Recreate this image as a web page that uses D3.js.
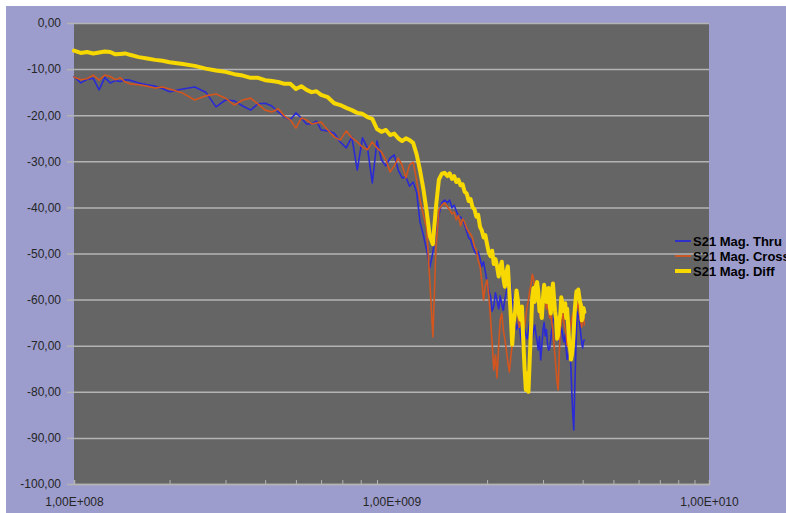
<!DOCTYPE html>
<html>
<head>
<meta charset="utf-8">
<script src="https://cdn.jsdelivr.net/npm/d3@7"></script>
<style>
  body { margin: 0; background: #ffffff; }
  svg { display: block; }
  text { font-family: "Liberation Sans", Arial, sans-serif; }
</style>
</head>
<body>
<div id="chart"></div>
<script>
// sweep frequencies in MHz
const freqMHz = [
  100, 105, 110, 115, 120, 125, 130, 135, 140, 145,
  150, 160, 170, 180, 190,
  200, 220, 240, 260, 280, 300, 320, 340, 360, 380,
  400, 420, 440, 460, 480, 500, 520, 540, 560, 580,
  600, 630, 660, 690, 720, 750, 780, 810, 840, 870,
  900, 930, 960, 990, 1020, 1050, 1080, 1110, 1140, 1170,
  1200, 1230, 1260, 1290, 1320, 1350, 1380, 1410, 1440, 1470,
  1500, 1525, 1550, 1575, 1600, 1625, 1650, 1675, 1700, 1725,
  1750, 1775, 1800, 1825, 1850, 1875, 1900, 1925, 1950, 1975,
  2000, 2025, 2050, 2075, 2100, 2125, 2150, 2175, 2200, 2225,
  2250, 2275, 2300, 2325, 2350, 2375, 2400, 2425, 2450, 2475,
  2500, 2525, 2550, 2575, 2600, 2625, 2650, 2675, 2700, 2725,
  2750, 2775, 2800, 2825, 2850, 2875, 2900, 2925, 2950, 2975,
  3000, 3025, 3050, 3075, 3100, 3125, 3150, 3175, 3200, 3225,
  3250, 3275, 3300, 3325, 3350, 3375, 3400, 3425, 3450, 3475,
  3500, 3525, 3550, 3575, 3600, 3625, 3650, 3675, 3700, 3725,
  3750, 3775, 3800, 3825, 3850, 3875, 3900, 3925, 3950, 3975,
  4000, 4025, 4050
];

const magThru = [
  -11.6, -13.0, -12.2, -12.0, -14.5, -11.8, -13.0, -12.5, -12.7, -12.3,
  -12.4, -13.0, -13.4, -13.7, -14.2,
  -14.9, -14.3, -13.9, -15.0, -18.2, -16.7, -16.9, -18.0, -18.9, -17.5,
  -17.4, -18.0, -19.3, -20.4, -21.0, -19.5, -20.6, -21.9, -21.9, -21.3,
  -23.2, -23.4, -23.9, -25.8, -27.1, -24.7, -31.9, -24.9, -27.1, -34.7,
  -25.6, -29.7, -31.0, -29.3, -28.6, -31.9, -33.6, -33.4, -35.4, -34.5,
  -36.7, -43.2, -46.0, -49.2, -53.1, -49.7, -45.3, -41.6, -39.0, -38.4,
  -39.0, -38.4, -40.1, -39.5, -40.8, -41.8, -42.1, -42.6, -43.8, -45.2,
  -46.6, -47.0, -48.4, -49.5, -50.1, -49.6, -51.0, -52.8, -51.8, -54.0,
  -56.2, -58.0, -59.2, -62.5, -61.4, -58.5, -60.1, -62.0, -59.2, -61.0,
  -62.3, -60.0, -58.4, -56.5, -55.3, -57.0, -60.1, -63.0, -64.0, -66.5,
  -65.7, -64.5, -67.9, -70.0, -69.6, -66.5, -67.7, -68.5, -66.6, -64.8,
  -65.7, -68.5, -67.0, -65.5, -67.5, -69.0, -70.9, -68.0, -73.1, -70.0,
  -66.6, -65.0, -67.9, -66.5, -69.6, -71.0, -70.5, -68.5, -66.6, -64.5,
  -64.0, -62.8, -64.4, -66.0, -67.2, -69.0, -68.3, -66.0, -67.0, -68.5,
  -69.2, -67.5, -70.9, -73.0, -72.2, -70.0, -71.4, -75.0, -80.7, -85.0,
  -88.3, -80.0, -73.1, -66.0, -62.7, -63.5, -64.0, -66.0, -67.7, -69.5,
  -70.5, -69.0, -68.8
];

const magCross = [
  -11.7, -12.3, -12.1, -11.3, -12.4, -11.3, -11.6, -12.3, -11.9, -12.8,
  -13.2, -13.4, -13.7, -14.1, -13.9,
  -14.3, -15.2, -16.7, -15.8, -15.4, -16.3, -17.8, -16.7, -16.3, -17.6,
  -18.9, -19.3, -18.6, -20.2, -21.0, -22.8, -20.6, -21.0, -21.9, -21.7,
  -21.5, -23.2, -24.7, -25.4, -23.4, -24.9, -25.8, -26.9, -27.5, -25.8,
  -27.1, -28.0, -29.7, -32.3, -31.0, -29.3, -30.8, -33.6, -30.8, -30.2,
  -34.1, -38.4, -41.6, -44.5, -55.7, -68.1, -48.8, -40.6, -39.5, -39.0,
  -39.9, -40.5, -41.4, -41.0, -42.7, -41.8, -44.0, -42.5, -43.2, -44.5,
  -45.3, -45.8, -46.6, -48.5, -49.2, -51.5, -52.7, -56.0, -60.1, -57.0,
  -55.7, -59.0, -64.0, -69.5, -75.3, -72.0, -77.0, -70.0, -64.4, -63.0,
  -66.6, -68.5, -70.9, -73.5, -75.7, -72.5, -69.8, -66.5, -64.4, -62.0,
  -63.6, -66.0, -64.9, -62.5, -64.0, -66.0, -63.6, -61.5, -60.1, -58.0,
  -56.8, -54.5, -55.3, -58.0, -56.2, -58.5, -61.2, -63.0, -64.0, -62.5,
  -61.8, -60.0, -59.7, -62.0, -61.0, -62.5, -64.0, -62.5, -64.9, -67.0,
  -69.8, -72.5, -75.3, -78.0, -79.6, -72.0, -66.6, -65.0, -64.0, -63.0,
  -65.5, -66.5, -67.7, -70.0, -68.8, -67.5, -66.6, -65.0, -64.0, -63.0,
  -64.9, -63.5, -62.7, -61.0, -61.8, -60.5, -62.7, -64.0, -64.9, -66.0,
  -64.0, -63.0, -65.5
];

const magDiff = [
  -6.0, -6.5, -6.3, -6.6, -6.4, -6.2, -6.3, -6.8, -6.7, -6.6,
  -6.9, -7.4, -7.7, -8.0, -8.2,
  -8.5, -8.9, -9.3, -9.9, -10.3, -10.6, -11.1, -11.4, -11.9, -11.9,
  -12.4, -12.6, -12.8, -13.2, -13.2, -14.3, -13.7, -14.5, -15.0, -14.8,
  -15.6, -16.1, -17.4, -17.8, -18.4, -18.9, -19.5, -19.7, -20.4, -20.8,
  -23.0, -23.6, -23.2, -24.3, -24.0, -25.0, -25.6, -25.0, -25.4, -26.0,
  -28.5, -32.0, -36.0, -40.8, -46.2, -48.0, -40.0, -34.0, -32.7, -32.5,
  -33.2, -32.6, -33.8, -33.2, -34.5, -34.0, -35.2, -35.0, -36.6, -37.0,
  -38.6, -38.2, -40.0, -40.4, -42.0, -41.6, -44.2, -45.0, -46.5, -46.0,
  -48.0, -49.8, -50.6, -49.4, -52.3, -51.2, -52.8, -55.0, -53.1, -51.8,
  -55.3, -57.2, -54.0, -52.8, -57.9, -63.5, -69.8, -65.0, -62.7, -58.0,
  -60.1, -63.5, -64.4, -61.5, -68.8, -75.0, -79.6, -76.0, -80.0, -73.0,
  -66.6, -59.5, -57.5, -60.5, -57.0, -56.2, -58.4, -62.5, -61.2, -64.0,
  -59.7, -56.8, -57.9, -60.5, -60.1, -57.5, -61.2, -63.0, -58.4, -56.5,
  -59.7, -62.5, -64.4, -68.5, -67.7, -64.5, -63.3, -59.5, -60.7, -62.5,
  -62.2, -60.8, -64.0, -62.0, -65.5, -69.0, -70.5, -73.0, -72.0, -70.0,
  -66.6, -62.5, -60.1, -58.2, -58.6, -57.8, -59.2, -60.5, -61.2, -64.5,
  -64.0, -61.8, -62.7
];

const seriesNames = ["S21 Mag. Thru", "S21 Mag. Cross", "S21 Mag. Diff"];
const seriesColors = ["#2a2ad6", "#d4561e", "#f7d800"];
const seriesWidths = [1.6, 1.6, 4];

const yTicks = [0, -10, -20, -30, -40, -50, -60, -70, -80, -90, -100];
const xTicks = [1e8, 1e9, 1e10];
const xTickLabels = ["1,00E+008", "1,00E+009", "1,00E+010"];

const width = 786, height = 513;
const plot = { left: 74, right: 709, top: 23, bottom: 484 };

const svg = d3.select("#chart")
  .append("svg")
  .attr("width", width)
  .attr("height", height);

// lavender chart area
svg.append("rect")
  .attr("x", 6).attr("y", 6)
  .attr("width", width - 6).attr("height", height - 6)
  .attr("fill", "#9c9ccd");

// gray plot area
svg.append("rect")
  .attr("x", plot.left).attr("y", plot.top)
  .attr("width", plot.right - plot.left)
  .attr("height", plot.bottom - plot.top)
  .attr("fill", "#656565");

const x = d3.scaleLog()
  .domain([1e8, 1e10])
  .range([plot.left, plot.right]);

const y = d3.scaleLinear()
  .domain([-100, 0])
  .range([plot.bottom, plot.top]);

// horizontal gridlines
svg.append("g")
  .attr("transform", `translate(${plot.left},0)`)
  .call(d3.axisLeft(y).tickValues(yTicks).tickSize(-(plot.right - plot.left)).tickFormat(""))
  .call(g => g.select(".domain").remove())
  .selectAll("line")
    .attr("stroke", "#b4b4b4")
    .attr("stroke-width", 1.5);

// y axis with small outside ticks
const yAxis = svg.append("g")
  .attr("transform", `translate(${plot.left},0)`)
  .call(d3.axisLeft(y)
    .tickValues(yTicks)
    .tickSize(7)
    .tickPadding(6)
    .tickFormat(d => d.toFixed(2).replace(".", ",")));
yAxis.select(".domain").remove();
yAxis.selectAll("line").attr("stroke", "#b4b4b4").attr("stroke-width", 1.5);
yAxis.selectAll("text")
  .attr("fill", "#262626")
  .style("font-size", "12px");

// minor log ticks along the bottom, pointing inward
const minorTicks = [];
[1e8, 1e9].forEach(dec => {
  for (let k = 2; k <= 9; k++) minorTicks.push(k * dec);
});
svg.append("g")
  .attr("transform", `translate(0,${plot.bottom})`)
  .call(d3.axisBottom(x).tickValues(minorTicks).tickSize(-4).tickFormat(""))
  .call(g => g.select(".domain").attr("stroke", "#b4b4b4").attr("stroke-width", 1.5))
  .selectAll("line")
    .attr("stroke", "#b4b4b4");

// x axis labels
const xAxis = svg.append("g")
  .attr("transform", `translate(0,${plot.bottom})`)
  .call(d3.axisBottom(x)
    .tickValues(xTicks)
    .tickSize(0)
    .tickPadding(13)
    .tickFormat((d, i) => xTickLabels[i]));
xAxis.select(".domain").remove();
xAxis.selectAll("text")
  .attr("fill", "#262626")
  .style("font-size", "12px");

// data lines, drawn in legend order so Diff ends up on top
const allSeries = [magThru, magCross, magDiff];
const line = d3.line()
  .x(d => x(d.f * 1e6))
  .y(d => y(d.v));

allSeries.forEach((vals, i) => {
  const pts = freqMHz.map((f, j) => ({ f: f, v: vals[j] }));
  svg.append("path")
    .datum(pts)
    .attr("d", line)
    .attr("fill", "none")
    .attr("stroke", seriesColors[i])
    .attr("stroke-width", seriesWidths[i])
    .attr("stroke-linejoin", "round")
    .attr("stroke-linecap", "round");
});

// legend on the right, runs off the edge like the original
const legend = svg.append("g")
  .attr("transform", "translate(675,241)");

seriesNames.forEach((name, i) => {
  const row = legend.append("g").attr("transform", `translate(0,${i * 15})`);
  row.append("line")
    .attr("x1", 0).attr("x2", 16)
    .attr("y1", 0).attr("y2", 0)
    .attr("stroke", seriesColors[i])
    .attr("stroke-width", i === 2 ? 4 : 1.8);
  row.append("text")
    .attr("x", 18)
    .attr("y", 0)
    .attr("dy", "0.35em")
    .attr("fill", "#000")
    .style("font-size", "13px")
    .style("font-weight", "bold")
    .text(name);
});
</script>
</body>
</html>
